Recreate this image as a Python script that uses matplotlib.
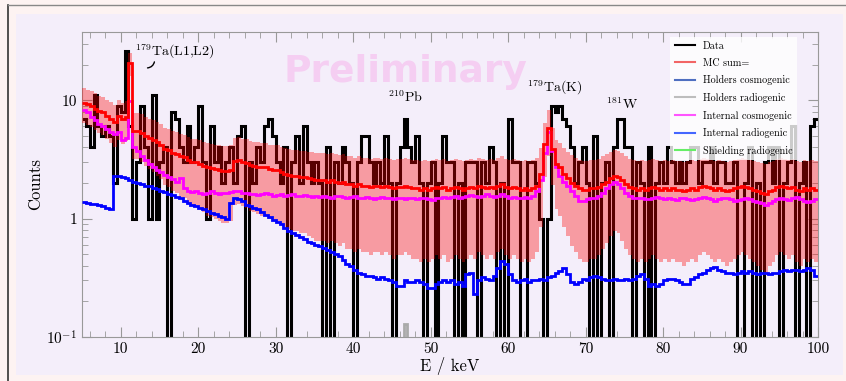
import numpy as np
import matplotlib
matplotlib.use("Agg")
import matplotlib.pyplot as plt
from matplotlib.lines import Line2D
from matplotlib.patches import Rectangle
from matplotlib.ticker import MultipleLocator, LogLocator, NullFormatter

# binning of the spectrum (keV)
e_min, e_max, bin_w = 5.0, 100.0, 0.5

# measured counts per 0.5 keV bin
data = [
    7, 6, 4, 11, 6, 5, 6, 5, 2, 9,
    8, 26, 6, 1, 3, 9, 4, 1, 11, 1,
    3, 4, 0, 8, 7, 4, 3, 6, 3, 4,
    9, 3, 1, 6, 3, 4, 2, 3, 4, 2,
    5, 6, 0, 3, 2, 4, 3, 6, 7, 5,
    3, 2, 4, 0, 3, 5, 2, 6, 3, 2,
    3, 2, 0, 4, 0, 3, 2, 4, 3, 2,
    0, 3, 5, 5, 3, 2, 3, 2, 5, 2,
    0, 2, 4, 7, 4, 3, 5, 2, 0, 2,
    3, 0, 2, 5, 3, 3, 0, 2, 0, 3,
    3, 3, 0, 3, 2, 4, 3, 0, 2, 0,
    7, 3, 3, 0, 0, 3, 3, 2, 1, 0,
    1, 9, 8, 9, 7, 6, 4, 2, 3, 4,
    2, 0, 5, 0, 2, 3, 0, 4, 7, 7,
    4, 4, 0, 3, 2, 0, 4, 0, 2, 3,
    2, 4, 3, 2, 3, 2, 3, 4, 4, 2,
    3, 3, 4, 2, 3, 3, 2, 2, 3, 0,
    0, 2, 4, 0, 2, 0, 3, 4, 2, 4,
    0, 2, 3, 6, 0, 2, 3, 0, 6, 7,
]

# MC sum
mc_sum = [
    9.5, 9.2, 8.9, 8.5, 8.1, 7.9, 7.4, 7.0, 6.6, 7.3,
    6.9, 7.2, 20.5, 5.5, 5.5, 5.3, 5.0, 4.8, 4.6, 4.4,
    4.2, 3.9, 3.8, 3.6, 3.5, 3.35, 3.3, 3.1, 3.0, 3.0,
    2.9, 2.8, 2.7, 2.65, 2.6, 2.55, 2.5, 2.5, 2.55, 3.05,
    3.1, 3.0, 2.95, 2.85, 2.8, 2.75, 2.7, 2.7, 2.6, 2.55,
    2.55, 2.45, 2.4, 2.35, 2.3, 2.3, 2.25, 2.25, 2.2, 2.15,
    2.1, 2.1, 2.1, 2.05, 2.1, 2.05, 2.0, 2.05, 1.95, 1.95,
    1.9, 1.95, 1.9, 1.9, 1.85, 1.9, 1.9, 1.85, 1.9, 1.85,
    1.8, 1.85, 1.85, 1.9, 1.85, 1.8, 1.8, 1.75, 1.8, 1.75,
    1.8, 1.85, 1.8, 1.85, 1.75, 1.8, 1.85, 1.8, 1.75, 1.8,
    1.85, 1.8, 1.9, 1.85, 1.8, 1.85, 1.8, 1.9, 1.95, 1.85,
    1.8, 1.85, 1.8, 1.75, 1.8, 1.75, 1.8, 1.9, 2.4, 4.3,
    5.8, 3.9, 2.9, 2.7, 2.4, 2.2, 2.0, 1.9, 1.8, 1.75,
    1.75, 1.8, 1.8, 1.85, 1.95, 2.05, 2.2, 2.3, 2.25, 2.1,
    1.95, 1.85, 1.8, 1.75, 1.8, 1.75, 1.8, 1.85, 1.8, 1.75,
    1.8, 1.75, 1.8, 1.75, 1.75, 1.7, 1.75, 1.8, 1.75, 1.85,
    1.9, 1.85, 1.8, 1.75, 1.8, 1.75, 1.7, 1.75, 1.8, 1.85,
    1.9, 1.85, 1.8, 1.75, 1.7, 1.65, 1.6, 1.7, 1.75, 1.85,
    1.9, 1.85, 1.8, 1.85, 1.75, 1.7, 1.8, 1.75, 1.8, 1.75,
]

# internal cosmogenic
internal_cosmo = [
    8.3, 7.9, 7.2, 6.8, 6.3, 6.0, 5.7, 5.4, 5.2, 5.4,
    4.6, 4.8, 9.8, 4.0, 3.7, 3.4, 3.1, 2.9, 2.7, 2.55,
    2.45, 2.35, 2.25, 2.15, 2.05, 2.2, 1.8, 1.72, 1.68, 1.7,
    1.66, 1.62, 1.65, 1.7, 1.64, 1.6, 1.66, 1.63, 1.68, 1.72,
    1.7, 1.65, 1.66, 1.6, 1.62, 1.58, 1.6, 1.64, 1.6, 1.56,
    1.58, 1.6, 1.55, 1.57, 1.6, 1.56, 1.54, 1.57, 1.55, 1.52,
    1.55, 1.53, 1.55, 1.52, 1.5, 1.54, 1.56, 1.52, 1.5, 1.53,
    1.55, 1.5, 1.48, 1.52, 1.5, 1.47, 1.5, 1.52, 1.49, 1.5,
    1.47, 1.5, 1.48, 1.46, 1.5, 1.48, 1.45, 1.48, 1.5, 1.46,
    1.44, 1.48, 1.5, 1.52, 1.5, 1.53, 1.55, 1.5, 1.52, 1.55,
    1.58, 1.54, 1.52, 1.56, 1.6, 1.55, 1.52, 1.56, 1.6, 1.55,
    1.5, 1.52, 1.48, 1.5, 1.53, 1.5, 1.55, 1.7, 2.1, 3.6,
    5.4, 3.7, 2.7, 2.3, 2.05, 1.9, 1.7, 1.55, 1.42, 1.4,
    1.45, 1.5, 1.48, 1.55, 1.65, 1.8, 1.95, 2.05, 1.95, 1.8,
    1.65, 1.55, 1.5, 1.48, 1.5, 1.47, 1.45, 1.5, 1.52, 1.48,
    1.45, 1.5, 1.47, 1.44, 1.48, 1.5, 1.46, 1.43, 1.47, 1.5,
    1.52, 1.48, 1.45, 1.42, 1.46, 1.5, 1.48, 1.45, 1.4, 1.43,
    1.47, 1.5, 1.46, 1.42, 1.38, 1.35, 1.3, 1.35, 1.4, 1.45,
    1.5, 1.47, 1.44, 1.48, 1.52, 1.47, 1.42, 1.38, 1.4, 1.45,
]

# internal radiogenic
internal_radio = [
    1.38, 1.36, 1.33, 1.34, 1.3, 1.27, 1.24, 1.2, 2.3, 2.3,
    2.25, 2.2, 2.1, 2.05, 2.0, 1.95, 1.9, 1.88, 1.82, 1.78,
    1.72, 1.69, 1.62, 1.58, 1.52, 1.48, 1.42, 1.36, 1.3, 1.28,
    1.24, 1.2, 1.17, 1.12, 1.1, 1.06, 1.03, 1.0, 1.35, 1.48,
    1.45, 1.4, 1.3, 1.27, 1.22, 1.2, 1.13, 1.08, 1.04, 0.98,
    0.94, 0.9, 0.84, 0.79, 0.76, 0.72, 0.7, 0.67, 0.64, 0.62,
    0.6, 0.59, 0.56, 0.54, 0.52, 0.5, 0.48, 0.45, 0.41, 0.4,
    0.37, 0.35, 0.34, 0.33, 0.33, 0.32, 0.31, 0.32, 0.31, 0.3,
    0.29, 0.27, 0.27, 0.3, 0.29, 0.29, 0.3, 0.29, 0.28, 0.26,
    0.26, 0.28, 0.29, 0.3, 0.29, 0.3, 0.28, 0.29, 0.27, 0.34,
    0.35, 0.23, 0.3, 0.32, 0.31, 0.3, 0.33, 0.38, 0.44, 0.41,
    0.34, 0.3, 0.29, 0.3, 0.31, 0.29, 0.3, 0.3, 0.31, 0.3,
    0.32, 0.33, 0.35, 0.36, 0.38, 0.34, 0.29, 0.28, 0.29, 0.31,
    0.3, 0.32, 0.33, 0.32, 0.31, 0.3, 0.3, 0.31, 0.3, 0.3,
    0.31, 0.3, 0.31, 0.33, 0.34, 0.31, 0.27, 0.28, 0.27, 0.28,
    0.3, 0.31, 0.31, 0.3, 0.29, 0.28, 0.28, 0.31, 0.32, 0.34,
    0.35, 0.37, 0.38, 0.39, 0.37, 0.36, 0.35, 0.35, 0.34, 0.35,
    0.36, 0.35, 0.36, 0.35, 0.34, 0.35, 0.35, 0.34, 0.35, 0.35,
    0.36, 0.37, 0.36, 0.37, 0.37, 0.36, 0.37, 0.38, 0.37, 0.33,
]

# holders radiogenic: only the 210Pb bin reaches the visible range
holders_radio = [0.0] * 83 + [0.13] + [0.0] * 106

labels = ["Data", "MC sum=", "Holders cosmogenic", "Holders radiogenic",
          "Internal cosmogenic", "Internal radiogenic", "Shielding radiogenic"]
colors = ["black", "#f26565", "#4f6fc0", "#bdbdbd", "#ff55ff", "#4466ff", "#66ee66"]

plt.rcParams.update({
    "font.family": "serif",
    "font.serif": ["cmr10"],
    "mathtext.fontset": "cm",
    "axes.unicode_minus": False,
})

W, H = 846, 381
fig = plt.figure(figsize=(W / 100, H / 100), dpi=100, facecolor="#fdf3f2")
# lavender panel and frame lines
fig.patches.append(Rectangle((16 / W, 6 / H), 827 / W, 361 / H, transform=fig.transFigure,
                             facecolor="#f4eefa", edgecolor="none", zorder=-10))
fig.add_artist(Line2D([8 / W, 8 / W], [0, 376 / H], color="#333333", lw=1.2))
fig.add_artist(Line2D([8 / W, 1], [376 / H, 376 / H], color="#888888", lw=1))

ax = fig.add_axes([82 / W, 44 / H, 736 / W, 305.5 / H])
ax.set_facecolor("none")

edges = np.arange(e_min, e_max + bin_w / 2, bin_w)
d = np.asarray(data, dtype=float)
mc = np.asarray(mc_sum)
err = np.sqrt(mc)

ax.stairs(np.where(d > 0, d, 1e-3), edges, baseline=None, color="black", lw=2.2, zorder=2)
ax.stairs(mc + err, edges, baseline=mc - err, fill=True, color="red", alpha=0.35, lw=0, zorder=3)
hr = np.asarray(holders_radio)
ax.stairs(np.where(hr > 0, hr, 1e-3), edges, baseline=None, color="#aaaaaa", lw=2, zorder=3.5)
ax.stairs(internal_radio, edges, baseline=None, color="#0000ff", lw=2, zorder=4)
ax.stairs(internal_cosmo, edges, baseline=None, color="#ff00ff", lw=2, zorder=4)
ax.stairs(mc, edges, baseline=None, color="#ff0000", lw=2, zorder=5)

ax.set_yscale("log")
ax.set_xlim(e_min, e_max)
ax.set_ylim(0.1, 38)

ax.xaxis.set_major_locator(MultipleLocator(10))
ax.xaxis.set_minor_locator(MultipleLocator(2))
ax.set_yticks([0.1, 1, 10])
ax.set_yticklabels([r"$10^{-1}$", "1", "10"])
ax.yaxis.set_minor_locator(LogLocator(subs=np.arange(2, 10)))
ax.yaxis.set_minor_formatter(NullFormatter())
ax.tick_params(which="both", direction="in", top=True, right=True, color="#999999", labelsize=11)
ax.tick_params(which="major", length=7)
ax.tick_params(which="minor", length=4)
for s in ax.spines.values():
    s.set_color("#999999")

ax.set_xlabel("E / keV", fontsize=12, labelpad=1)
ax.set_ylabel("Counts", fontsize=12, labelpad=2)

ax.text(0.439, 0.869, "Preliminary", transform=ax.transAxes, ha="center", va="center",
        fontsize=27, fontweight="bold", family="DejaVu Sans", color="#f5cef2", zorder=1)

ax.text(11.84, 23.6, r"$^{179}$Ta(L1,L2)", fontsize=10, va="baseline", zorder=6)
ax.annotate("", xy=(13.1, 18.7), xytext=(14.4, 22.2),
            arrowprops=dict(arrowstyle="-", connectionstyle="arc3,rad=-0.5", color="black", lw=1))
ax.text(44.5, 9.6, r"$^{210}$Pb", fontsize=10, va="baseline", zorder=6)
ax.text(62.5, 11.7, r"$^{179}$Ta(K)", fontsize=10, va="baseline", zorder=6)
ax.text(72.7, 8.4, r"$^{181}$W", fontsize=10, va="baseline", zorder=6)

handles = [Line2D([], [], color=c, lw=1.5) for c in colors]
leg = ax.legend(handles, labels, loc="upper left", bbox_to_anchor=(0.792, 1.0),
                fontsize=7.3, frameon=True, framealpha=0.8, facecolor="white", edgecolor="none",
                fancybox=False, handlelength=2.0, labelspacing=0.75, borderpad=0.45)
leg.set_zorder(10)

fig.savefig("out.png", dpi=100, facecolor=fig.get_facecolor())
